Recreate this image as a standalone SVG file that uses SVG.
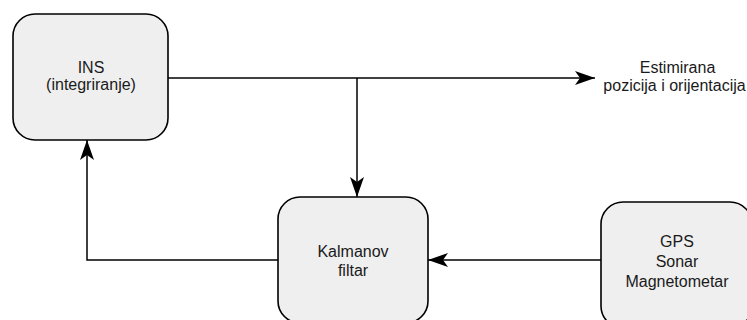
<svg xmlns="http://www.w3.org/2000/svg" width="747" height="320" viewBox="0 0 747 320">
<style>
.box{fill:#efefef;stroke:#000;stroke-width:1.6}
.ln{fill:none;stroke:#000;stroke-width:1.5}
text{font-family:"Liberation Sans",Arial,sans-serif;font-size:16px;fill:#1a1a1a;text-anchor:middle}
</style>
<defs>
<marker id="arr" markerUnits="userSpaceOnUse" markerWidth="24" markerHeight="18" viewBox="-21 -9 24 18" refX="0" refY="0" orient="auto">
<path d="M0,0 L-20,-7 L-15,0 L-20,7 Z" fill="#000"/>
</marker>
</defs>
<rect width="747" height="320" fill="#fff"/>
<g id="connectors">
<path class="ln" d="M168,78 L595,78" marker-end="url(#arr)"/>
<path class="ln" d="M357,78 L357,197" marker-end="url(#arr)"/>
<path class="ln" d="M278,260 L87,260 L87,140" marker-end="url(#arr)"/>
<path class="ln" d="M601,260 L428,260" marker-end="url(#arr)"/>
</g>
<g id="ins">
<rect class="box" x="13" y="14" width="155" height="126" rx="22"/>
<text x="91" y="72.5">INS</text>
<text x="91" y="90">(integriranje)</text>
</g>
<g id="kalman">
<rect class="box" x="278" y="197" width="150" height="126" rx="22"/>
<text x="353" y="256.5">Kalmanov</text>
<text x="353" y="276">filtar</text>
</g>
<g id="sensors">
<rect class="box" x="601" y="202" width="151" height="126" rx="22"/>
<text x="677" y="247">GPS</text>
<text x="677" y="267">Sonar</text>
<text x="677" y="287">Magnetometar</text>
</g>
<g id="output">
<text x="677.5" y="72.5">Estimirana</text>
<text x="674.5" y="91">pozicija i orijentacija</text>
</g>
</svg>
